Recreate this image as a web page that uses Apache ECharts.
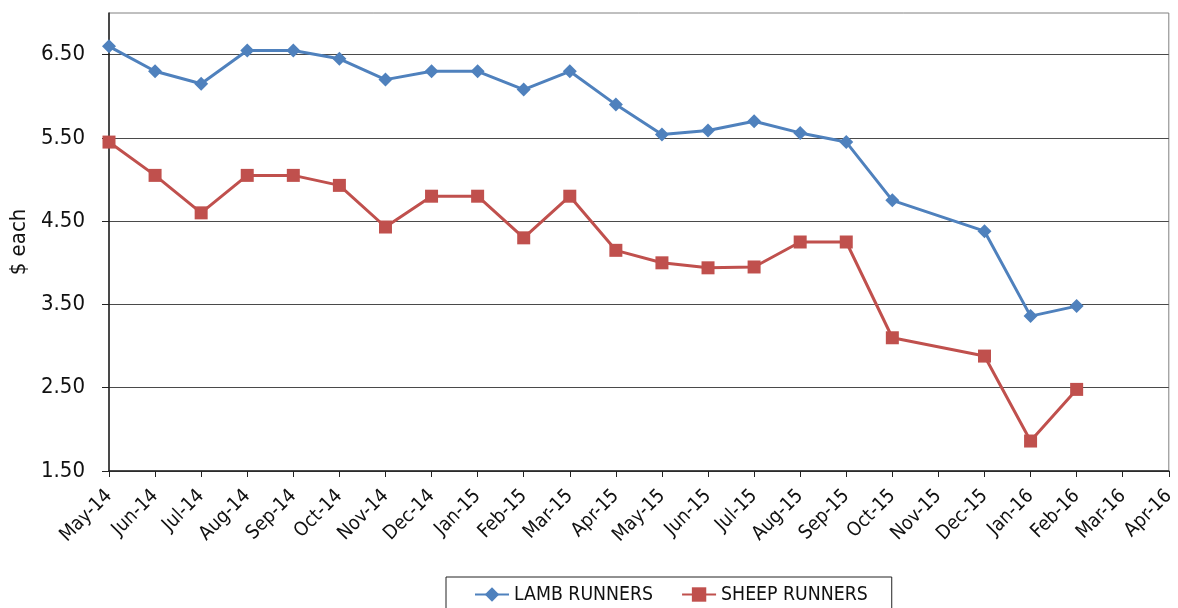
<!DOCTYPE html>
<html>
<head>
<meta charset="utf-8">
<script src="https://cdn.jsdelivr.net/npm/echarts@6/dist/echarts.min.js"></script>
<style>html,body{margin:0;padding:0;background:#fff}#c{width:1178px;height:608px}</style>
</head>
<body>
<div id="c"></div>
<script>
const months = ['May-14','Jun-14','Jul-14','Aug-14','Sep-14','Oct-14','Nov-14','Dec-14','Jan-15','Feb-15','Mar-15','Apr-15','May-15','Jun-15','Jul-15','Aug-15','Sep-15','Oct-15','Nov-15','Dec-15','Jan-16','Feb-16','Mar-16','Apr-16'];
const lambRunners = [6.60,6.30,6.15,6.55,6.55,6.45,6.20,6.30,6.30,6.08,6.30,5.90,5.54,5.59,5.70,5.56,5.45,4.75,null,4.38,3.36,3.48,null,null];
const sheepRunners = [5.45,5.05,4.60,5.05,5.05,4.93,4.43,4.80,4.80,4.30,4.80,4.15,4.00,3.94,3.95,4.25,4.25,3.10,null,2.88,1.86,2.48,null,null];
const yTicks = [1.5,2.5,3.5,4.5,5.5,6.5];

const FONT = "'DejaVu Sans Condensed','Liberation Sans Narrow',sans-serif";
const chart = echarts.init(document.getElementById('c'), null, {renderer:'canvas'});
chart.setOption({
  animation:false,
  grid:{left:109,right:8,top:13,bottom:137,show:true,borderColor:'#808080',borderWidth:1,containLabel:false},
  legend:{
    left:446, top:577, padding:[8,24,8,28], itemGap:28, itemWidth:34, itemHeight:18,
    borderColor:'#222', borderWidth:1,
    textStyle:{fontFamily:FONT,fontSize:19.3,color:'#111'},
    data:['LAMB RUNNERS','SHEEP RUNNERS']
  },
  xAxis:{
    type:'category', data:months, boundaryGap:false,
    axisLine:{lineStyle:{color:'#222',width:1.5}},
    axisTick:{show:true,length:6,inside:false,lineStyle:{color:'#222'}},
    axisLabel:{rotate:45,fontFamily:FONT,fontSize:19.5,color:'#111',interval:0,margin:22},
    splitLine:{show:false}
  },
  yAxis:{
    type:'value', min:1.5, max:7,
    name:'$ each', nameLocation:'middle', nameGap:76, nameRotate:90,
    nameTextStyle:{fontFamily:FONT,fontSize:22,color:'#111'},
    axisLine:{show:true,lineStyle:{color:'#222',width:1.5}},
    axisTick:{show:true,length:7,customValues:yTicks,lineStyle:{color:'#222'}},
    axisLabel:{customValues:yTicks,fontFamily:FONT,fontSize:22,color:'#111',margin:24,formatter:v=>v.toFixed(2)},
    splitLine:{show:true,lineStyle:{color:'#4a4a4a',width:1.2}}
  },
  series:[
    {name:'LAMB RUNNERS',type:'line',data:lambRunners,connectNulls:true,symbol:'diamond',symbolSize:14,
     lineStyle:{color:'#4F81BD',width:3},itemStyle:{color:'#4F81BD'}},
    {name:'SHEEP RUNNERS',type:'line',data:sheepRunners,connectNulls:true,symbol:'rect',symbolSize:13,
     lineStyle:{color:'#C0504D',width:3},itemStyle:{color:'#C0504D'}}
  ]
});
</script>
</body>
</html>
